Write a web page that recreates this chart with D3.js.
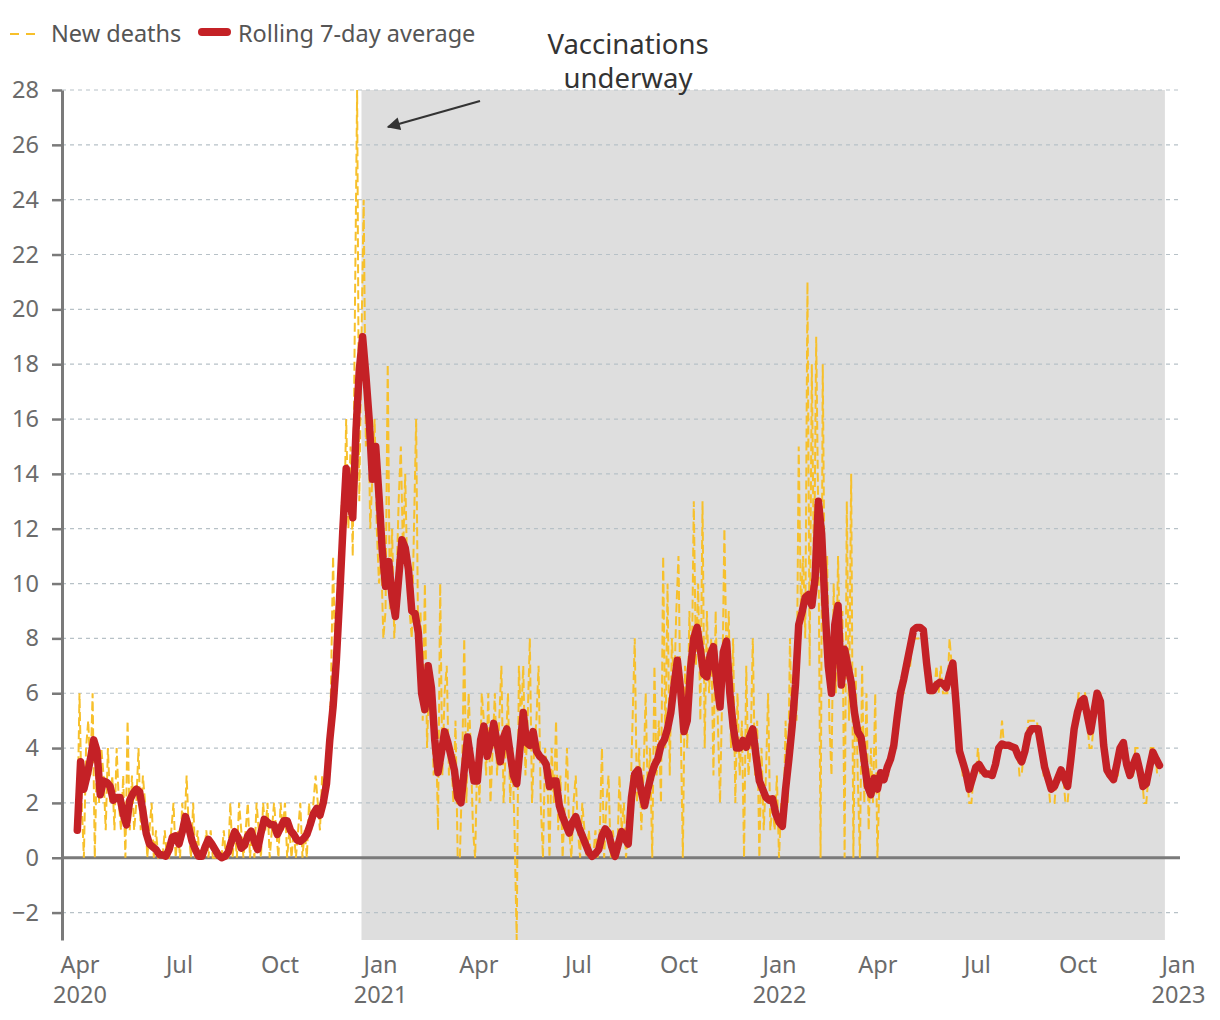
<!DOCTYPE html>
<html>
<head>
<meta charset="utf-8">
<script src="https://cdn.jsdelivr.net/npm/d3@7"></script>
<style>
  body { margin: 0; background: #fff; }
  text { font-family: "Noto Sans", "DejaVu Sans", sans-serif; }
</style>
</head>
<body>
<div id="canvas"></div>
<script>
"use strict"

/* Data */
let firstDay = new Date(2020, 2, 30);   // first reported day
let dailyStep = 2;                       // days between new-death readings
let avgStep = 3;                         // days between average readings

// new deaths, read every second day
let newDeaths = [
    // Apr - May 2020
    1, 6, 2, 0, 4, 5, 3, 6, 0, 4, 2, 4, 3, 1, 4, 2, 3, 1, 4, 2, 1, 3, 0, 5, 1,
    3, 1, 2, 4, 1, 3, 2, 0, 1, 2, 0, 1, 0, 0,
    // Jun - Nov 2020
    0, 1, 0, 0, 1, 2, 0, 1, 0, 2, 1,
    3,
    1, 0, 2, 0, 1, 0, 0, 0, 1, 0,
    1, 0, 0, 0, 0, 0, 1, 0, 0, 2,
    0, 1, 0, 2, 1, 0, 1, 2, 0, 1,
    0, 2, 1, 0, 2, 1, 2, 0, 1, 2,
    1, 0, 2, 1, 2, 0, 1, 0, 1, 0,
    1, 2, 0, 1, 0, 2, 1, 2, 3,
    // winter wave
    2, 1, 3, 2, 3, 4, 6, 11, 7, 9, 10, 13, 12,
    16, 12, 15, 11, 20, 28, 13, 19,
    24, 15, 17, 12, 14, 16, 12, 10, 11, 8, 9, 18, 9, 12, 8, 10, 13, 15, 11, 14,
    10, 9, 8, 12, 16, 7, 9,
    // spring 2021
    5, 10, 4, 7, 6, 3, 5, 1, 10, 3, 6, 7, 3, 4, 2, 5, 0, 0, 3, 8, 2, 6,
    4, 1, 0, 4, 2, 6, 5, 3, 6, 2, 4, 6, 3, 5, 7, 2, 4, 6, 2, 4, 1, -3, 7, 5,
    7, 3, 5, 8, 2, 4, 5, 7, 2, 0, 4, 3, 0, 4, 2, 5, 1,
    // summer 2021
    3, 0, 2, 4, 1, 0, 2, 3, 1, 0, 2, 1, 0, 1, 0, 0, 1, 0, 1, 4, 0, 2, 3, 0,
    1, 0, 0, 3, 1, 2, 0, 1, 2,
    // autumn 2021
    5, 8, 2, 4, 1, 3, 6, 2, 4, 0, 7, 3, 5, 2, 11, 4, 10, 3, 8, 6, 9, 11, 5, 0,
    7, 4, 9, 6, 13, 7, 10, 5,
    13, 4, 9, 6, 8, 3, 9, 5, 2, 6, 12, 7, 9, 4, 8, 2, 6, 3, 5, 0, 7, 3, 4, 8,
    3, 5, 0, 4, 1, 3, 6, 1, 2, 1, 3, 0, 2, 1, 5, 2,
    // winter 2022
    8, 4, 7, 5, 15, 9, 11, 8, 21, 7, 18, 10, 19, 12, 0, 18, 8, 11, 5,
    3, 10, 6, 11, 7, 9, 0, 13, 5, 14, 0, 7, 3, 0, 7, 2, 6, 1, 4, 2, 6, 0, 3,
    // spring - summer 2022
    3, 3, 3, 3, 4, 4, 4, 5, 6, 6, 6, 7, 7, 7, 8, 8, 8, 8, 8, 8, 7, 7, 6, 6,
    6, 7, 6, 7, 6, 6, 6, 8, 7, 7, 6, 4, 4,
    3, 3, 3, 2, 2, 3, 3, 4, 3, 3, 3, 3, 3, 3, 3, 4, 4, 4, 5, 4, 4, 4, 4, 4,
    4, 4, 3, 3, 4, 4, 5, 5, 5, 5, 5, 4, 4, 3, 3, 3, 2, 2, 2, 3, 3, 3, 3, 2,
    2, 3, 4, 5, 5, 6, 6, 6, 6, 5, 4, 4, 5, 6, 6, 6, 5, 4, 3, 3, 3, 3, 3, 3,
    4, 4, 4, 4, 3, 3, 3, 4, 4, 3, 3, 2, 2, 3, 4, 4, 4, 3, 3
];

// rolling 7-day average, read every third day
let rollingAvg = [
    1.0, 3.5, 2.5, 3.0, 3.6, 4.3, 3.9, 2.3, 2.8, 2.75, 2.6, 2.1, 2.2, 2.2, 1.6, 1.2,
    2.1, 2.35, 2.5, 2.4, 1.7, 0.9, 0.5, 0.4, 0.3, 0.12, 0.1, 0.06, 0.3, 0.75, 0.8,
    0.5, 0.95, 1.5, 1.1, 0.6, 0.3, 0.05, 0.05, 0.4, 0.67, 0.5, 0.3, 0.1, 0, 0.05,
    0.2, 0.6, 0.95, 0.75, 0.35, 0.45, 0.8, 0.97, 0.6, 0.3, 0.9, 1.4, 1.3, 1.2, 1.2,
    0.85, 1.1, 1.35, 1.35, 1.0, 0.85, 0.65, 0.6, 0.7, 0.85, 1.2, 1.6, 1.8, 1.55,
    2.0, 2.7, 4.3, 5.5, 7.2, 9.5, 12.0, 14.2, 13.0, 12.4, 15.6, 17.8, 19.0, 17.6,
    16.0, 13.8, 15.0, 13.2, 11.2, 9.9, 10.8, 9.5, 8.8, 10.2, 11.6, 11.3, 10.5, 9.0,
    8.9, 8.2, 6.0, 5.4, 7.0, 6.2, 4.3, 3.1, 3.8, 4.6, 4.2, 3.7, 3.2, 2.2, 2.0, 3.2,
    4.4, 3.6, 2.8, 2.8, 4.3, 4.8, 3.7, 4.2, 4.9, 4.2, 3.5, 4.4, 4.7, 3.8, 3.0, 2.7,
    4.0, 5.3, 4.2, 4.1, 4.6, 3.9, 3.7, 3.6, 3.4, 2.6, 2.8, 2.8, 1.9, 1.5, 1.2, 0.9,
    1.3, 1.5, 1.1, 0.8, 0.5, 0.2, 0.05, 0.15, 0.3, 0.8, 1.05, 0.9, 0.4, 0.05, 0.5,
    0.95, 0.7, 0.5, 2.2, 3.06, 3.2, 2.4, 1.9, 2.5, 3.0, 3.37, 3.6, 4.1, 4.3, 4.7,
    5.3, 6.3, 7.2, 6.1, 4.6, 5.0, 6.9, 8.0, 8.4, 7.6, 6.7, 6.6, 7.4, 7.7, 6.4, 5.5,
    7.5, 7.9, 6.0, 4.8, 4.0, 4.0, 4.28, 4.03, 4.4, 4.7, 3.7, 2.8, 2.5, 2.2, 2.1,
    2.15, 1.6, 1.3, 1.15, 2.5, 3.6, 4.8, 6.3, 8.5, 8.95, 9.5, 9.6, 9.2, 10.2, 13.0,
    11.8, 9.2, 7.0, 6.0, 8.5, 9.2, 6.3, 7.6, 7.0, 6.4, 5.3, 4.6, 4.4, 3.5, 2.6, 2.3,
    2.9, 2.5, 3.1, 2.85, 3.3, 3.6, 4.1, 5.1, 6.0, 6.5, 7.1, 7.7, 8.3, 8.4, 8.4, 8.3,
    7.1, 6.1, 6.1, 6.3, 6.4, 6.35, 6.2, 6.7, 7.1, 5.6, 3.9, 3.5, 3.1, 2.5, 2.9, 3.3,
    3.4, 3.2, 3.05, 3.05, 3.0, 3.4, 4.0, 4.15, 4.1, 4.1, 4.05, 4.0, 3.7, 3.5, 3.9,
    4.5, 4.7, 4.7, 4.7, 4.0, 3.3, 2.9, 2.5, 2.6, 2.9, 3.2, 2.9, 2.6, 3.6, 4.7, 5.3,
    5.7, 5.8, 5.2, 4.6, 5.3, 6.0, 5.7, 4.1, 3.2, 3.0, 2.85, 3.4, 4.0, 4.2, 3.4, 3.0,
    3.4, 3.7, 3.2, 2.6, 2.7, 3.3, 3.85, 3.6, 3.37
];

let yTicks = [-2, 0, 2, 4, 6, 8, 10, 12, 14, 16, 18, 20, 22, 24, 26, 28];
let xTickMonths = ["Apr", "Jul", "Oct", "Jan"];
let vaccineStart = new Date(2020, 11, 15);
let vaccineEnd = new Date(2022, 11, 20);
let legendLabels = ["New deaths", "Rolling 7-day average"];
let noteLines = ["Vaccinations", "underway"];

/* Drawing config */
let svgWidth = 1220;
let svgHeight = 1020;
let plotLeft = 62;
let plotRight = 1178;
let plotTop = 90;
let plotBottom = 940;
let yellow = "#f7c02b";
let red = "#c42126";
let axisGrey = "#7a7a7a";
let labelSize = 23.5;

let svg = d3.select("#canvas")
    .append("svg")
    .attr("width", svgWidth)
    .attr("height", svgHeight);

/* Scales */
let xScale = d3.scaleTime()
    .domain([new Date(2020, 2, 16), new Date(2023, 0, 1)])
    .range([plotLeft, plotRight]);

let yScale = d3.scaleLinear()
    .domain([-3, 28])
    .range([plotBottom, plotTop]);

let dailyData = newDeaths.map(function (v, i) {
    return { date: d3.timeDay.offset(firstDay, i * dailyStep), value: v };
});
let avgData = rollingAvg.map(function (v, i) {
    return { date: d3.timeDay.offset(firstDay, i * avgStep), value: v };
});

/* Vaccination shading */
svg.append("rect")
    .attr("x", xScale(vaccineStart))
    .attr("y", yScale(28))
    .attr("width", xScale(vaccineEnd) - xScale(vaccineStart))
    .attr("height", yScale(-3) - yScale(28))
    .attr("fill", "#dedede");

/* Grid lines */
svg.append("g")
    .selectAll("line")
    .data(yTicks.filter(function (t) { return t !== 0; }))
    .join("line")
    .attr("x1", plotLeft)
    .attr("x2", plotRight)
    .attr("y1", function (t) { return yScale(t); })
    .attr("y2", function (t) { return yScale(t); })
    .attr("stroke", "#b7c1c7")
    .attr("stroke-width", 1.2)
    .attr("stroke-dasharray", "4,4");

/* Zero line */
svg.append("line")
    .attr("x1", plotLeft)
    .attr("x2", plotRight + 2)
    .attr("y1", yScale(0))
    .attr("y2", yScale(0))
    .attr("stroke", axisGrey)
    .attr("stroke-width", 3);

/* Y axis */
let yAxis = svg.append("g")
    .attr("transform", "translate(" + plotLeft + ",0)")
    .call(d3.axisLeft(yScale).tickValues(yTicks).tickSize(10).tickSizeOuter(0).tickPadding(13));
yAxis.select(".domain")
    .attr("stroke", axisGrey)
    .attr("stroke-width", 3);
yAxis.selectAll(".tick line")
    .attr("stroke", axisGrey)
    .attr("stroke-width", 2.5);
yAxis.selectAll(".tick text")
    .attr("fill", "#6b6b6b")
    .attr("font-size", labelSize)
    .attr("font-family", "'Noto Sans', sans-serif");

/* X axis */
let xAxis = svg.append("g")
    .attr("transform", "translate(0," + plotBottom + ")")
    .call(d3.axisBottom(xScale)
        .ticks(d3.timeMonth.every(3))
        .tickSize(0)
        .tickPadding(16)
        .tickFormat(function (d) { return xTickMonths[Math.floor(d.getMonth() / 3 + 3) % 4]; }));
xAxis.select(".domain").remove();
xAxis.selectAll(".tick text")
    .attr("fill", "#6b6b6b")
    .attr("font-size", labelSize)
    .attr("font-family", "'Noto Sans', sans-serif")
    .each(function (d) {
        if (d.getMonth() === 0 || (d.getFullYear() === 2020 && d.getMonth() === 3)) {
            d3.select(this).append("tspan")
                .attr("x", 0)
                .attr("dy", "1.28em")
                .text(d.getFullYear());
        }
    });

/* Lines */
let line = d3.line()
    .x(function (d) { return xScale(d.date); })
    .y(function (d) { return yScale(d.value); });

svg.append("path")
    .datum(dailyData)
    .attr("d", line)
    .attr("fill", "none")
    .attr("stroke", yellow)
    .attr("stroke-width", 2)
    .attr("stroke-dasharray", "9,4");

svg.append("path")
    .datum(avgData)
    .attr("d", line)
    .attr("fill", "none")
    .attr("stroke", red)
    .attr("stroke-width", 7.5)
    .attr("stroke-linejoin", "round")
    .attr("stroke-linecap", "round");

/* Legend */
svg.append("line")
    .attr("x1", 10).attr("x2", 36)
    .attr("y1", 34).attr("y2", 34)
    .attr("stroke", yellow)
    .attr("stroke-width", 2)
    .attr("stroke-dasharray", "9,7");
svg.append("text")
    .attr("x", 51).attr("y", 42)
    .attr("font-size", labelSize)
    .attr("fill", "#555")
    .text(legendLabels[0]);
svg.append("line")
    .attr("x1", 202).attr("x2", 227)
    .attr("y1", 32).attr("y2", 32)
    .attr("stroke", red)
    .attr("stroke-width", 8)
    .attr("stroke-linecap", "round");
svg.append("text")
    .attr("x", 238).attr("y", 42)
    .attr("font-size", labelSize)
    .attr("fill", "#555")
    .text(legendLabels[1]);

/* Annotation */
svg.append("text")
    .attr("x", 628).attr("y", 54)
    .attr("text-anchor", "middle")
    .attr("font-size", 27.5)
    .attr("fill", "#333")
    .selectAll("tspan")
    .data(noteLines)
    .join("tspan")
    .attr("x", 628)
    .attr("dy", function (d, i) { return i === 0 ? 0 : "1.22em"; })
    .text(function (d) { return d; });

svg.append("defs").append("marker")
    .attr("id", "arrow")
    .attr("viewBox", "0 0 10 10")
    .attr("refX", 9).attr("refY", 5)
    .attr("markerWidth", 7).attr("markerHeight", 6)
    .attr("markerUnits", "strokeWidth")
    .attr("orient", "auto")
    .append("path")
    .attr("d", "M0,0 L10,5 L0,10 z")
    .attr("fill", "#333");

svg.append("line")
    .attr("x1", 480).attr("y1", 101)
    .attr("x2", 388).attr("y2", 127)
    .attr("stroke", "#333")
    .attr("stroke-width", 2.2)
    .attr("marker-end", "url(#arrow)");
</script>
</body>
</html>
